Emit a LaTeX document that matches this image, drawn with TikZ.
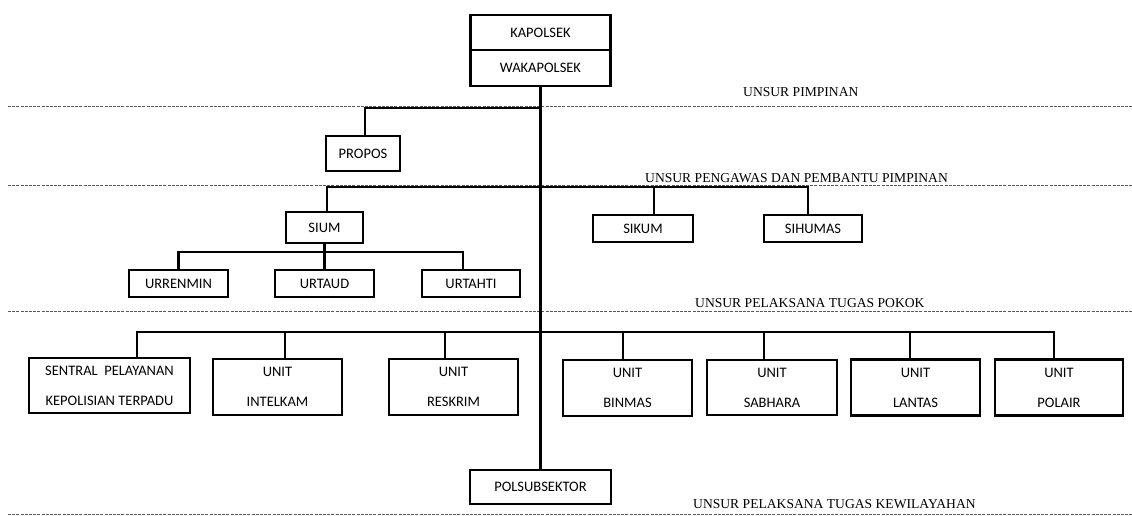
\documentclass[tikz,border=0pt]{standalone}
\usepackage{fontspec}
\setmainfont{Liberation Serif}
\newfontfamily\boxfont{Carlito}
\usetikzlibrary{positioning,calc}

\tikzset{
    unitbox/.style={rectangle, draw, line width=2.2pt, inner sep=0pt, align=center,
                    font=\boxfont\fontsize{14.5}{30}\selectfont},
    link/.style={line width=2.4pt},
    level/.style={gray!70!black, line width=0.9pt, dash pattern=on 3pt off 1.2pt},
    unsur/.style={anchor=base west, inner sep=0pt, font=\fontsize{13.6}{16}\selectfont}
}

\begin{document}
\begin{tikzpicture}[x=1pt, y=-1pt]
    \useasboundingbox (0,0) rectangle (1132,516);

    % Pembatas unsur
    \draw[level] (8,106) -- (1132,106);
    \draw[level] (8,185) -- (1132,185);
    \draw[level] (8,311) -- (1132,311);
    \draw[level] (8,514) -- (1132,514);
    \node[unsur] (lpimpinan) at (743,97) {UNSUR PIMPINAN};
    \node[unsur] (lpengawas) at (645,182) {UNSUR PENGAWAS DAN PEMBANTU PIMPINAN};
    \node[unsur] (lpokok) at (695,307) {UNSUR PELAKSANA TUGAS POKOK};
    \node[unsur] (lwilayah) at (693,508) {UNSUR PELAKSANA TUGAS KEWILAYAHAN};

    % Pimpinan
    \node[unitbox, minimum width=140pt, minimum height=35pt] (kapolsek) at (540.5,32.5) {KAPOLSEK};
    \node[unitbox, minimum width=140pt, minimum height=36pt] (wakapolsek) at (540.5,68) {WAKAPOLSEK};
    \node[unitbox, minimum width=141pt, minimum height=34pt] (polsub) at (540.5,487) {POLSUBSEKTOR};
    \draw[link] (wakapolsek.south) -- (polsub.north);

    % Pengawas dan pembantu pimpinan
    \node[unitbox, minimum width=74pt, minimum height=35pt] (propos) at (363,153.5) {PROPOS};
    \node[unitbox, minimum width=77pt, minimum height=31pt] (sium) at (324.5,227.5) {SIUM};
    \node[unitbox, minimum width=100pt, minimum height=27pt] (sikum) at (643,228.5) {SIKUM};
    \node[unitbox, minimum width=98pt, minimum height=27pt] (sihumas) at (813,228.5) {SIHUMAS};
    \node[unitbox, minimum width=99pt, minimum height=27pt] (urrenmin) at (178.5,283.5) {URRENMIN};
    \node[unitbox, minimum width=99pt, minimum height=27pt] (urtaud) at (324.5,283.5) {URTAUD};
    \node[unitbox, minimum width=98pt, minimum height=27pt] (urtahti) at (471,283.5) {URTAHTI};

    \coordinate (jpropos) at (540.5,108);
    \coordinate (jstaf) at (540.5,187);
    \coordinate (jur) at (324.5,252);
    \draw[link] ([xshift=2pt]propos.north) |- (jpropos);
    \draw[link] ([xshift=2.5pt]sium.north) |- (jstaf) -| ([xshift=-5pt]sihumas.north);
    \draw[link] ([xshift=11pt]sikum.north) -- ([xshift=11pt]sikum.north |- jstaf);
    \draw[link] (urrenmin.north) |- (jur) -| ([xshift=-8pt]urtahti.north);
    \draw[link] (sium.south) -- (urtaud.north);

    % Pelaksana tugas pokok
    \node[unitbox, minimum width=161pt, minimum height=55pt] (spkt) at (109.5,385.5)
        {SENTRAL\ \ PELAYANAN\\KEPOLISIAN TERPADU};
    \node[unitbox, minimum width=129pt, minimum height=56pt] (intelkam) at (277.5,387) {UNIT\\INTELKAM};
    \node[unitbox, minimum width=129pt, minimum height=56pt] (reskrim) at (453.5,387) {UNIT\\RESKRIM};
    \node[unitbox, minimum width=129pt, minimum height=56pt] (binmas) at (627.5,388) {UNIT\\BINMAS};
    \node[unitbox, minimum width=130pt, minimum height=55pt] (sabhara) at (772,387.5) {UNIT\\SABHARA};
    \node[unitbox, minimum width=129pt, minimum height=56pt] (lantas) at (915.5,387.5) {UNIT\\LANTAS};
    \node[unitbox, minimum width=128pt, minimum height=56pt] (polair) at (1059,387.5) {UNIT\\POLAIR};

    \coordinate (jpokok) at (540.5,332);
    \draw[link] ([xshift=27.5pt]spkt.north) |- (jpokok) -| ([xshift=-5pt]polair.north);
    \foreach \unit/\dx in {intelkam/7.5, reskrim/-8.5, binmas/-4.5, sabhara/-8, lantas/-5.5}
        \draw[link] ([xshift=\dx pt]\unit.north) -- ([xshift=\dx pt]\unit.north |- jpokok);
\end{tikzpicture}
\end{document}
